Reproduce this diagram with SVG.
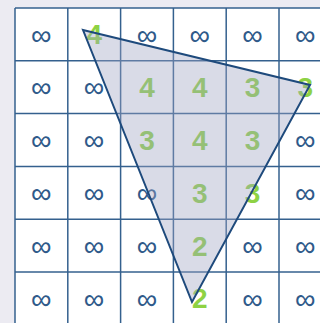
<svg xmlns="http://www.w3.org/2000/svg" width="320" height="323" viewBox="0 0 320 323">
<style>
.grid line{stroke:#34608e;stroke-width:1.5}
.inf{font-family:"Liberation Sans",Arial,sans-serif;font-size:29px;fill:#2f5a8a;text-anchor:middle}
.num{font-family:"Liberation Sans",Arial,sans-serif;font-size:28px;font-weight:bold;fill:#8ed244;text-anchor:middle}
</style>
<rect width="320" height="323" fill="#ecebf2"/>
<rect x="15" y="8" width="310" height="320" fill="#ffffff"/>
<g class="grid">
<line x1="15" y1="8" x2="15" y2="323"/>
<line x1="67.8" y1="8" x2="67.8" y2="323"/>
<line x1="120.6" y1="8" x2="120.6" y2="323"/>
<line x1="173.4" y1="8" x2="173.4" y2="323"/>
<line x1="226.2" y1="8" x2="226.2" y2="323"/>
<line x1="279" y1="8" x2="279" y2="323"/>
<line x1="15" y1="8" x2="320" y2="8"/>
<line x1="15" y1="60.8" x2="320" y2="60.8"/>
<line x1="15" y1="113.6" x2="320" y2="113.6"/>
<line x1="15" y1="166.4" x2="320" y2="166.4"/>
<line x1="15" y1="219.2" x2="320" y2="219.2"/>
<line x1="15" y1="272" x2="320" y2="272"/>
</g>
<g id="infinities" class="inf">
<text x="41.4" y="44.5">∞</text><text x="147" y="44.5">∞</text><text x="199.8" y="44.5">∞</text><text x="252.6" y="44.5">∞</text><text x="305.4" y="44.5">∞</text>
<text x="41.4" y="97.3">∞</text><text x="94.2" y="97.3">∞</text>
<text x="41.4" y="150.1">∞</text><text x="94.2" y="150.1">∞</text><text x="305.4" y="150.1">∞</text>
<text x="41.4" y="202.9">∞</text><text x="94.2" y="202.9">∞</text><text x="147" y="202.9">∞</text><text x="305.4" y="202.9">∞</text>
<text x="41.4" y="255.7">∞</text><text x="94.2" y="255.7">∞</text><text x="147" y="255.7">∞</text><text x="252.6" y="255.7">∞</text><text x="305.4" y="255.7">∞</text>
<text x="41.4" y="308.5">∞</text><text x="94.2" y="308.5">∞</text><text x="147" y="308.5">∞</text><text x="252.6" y="308.5">∞</text><text x="305.4" y="308.5">∞</text>
</g>
<g id="numbers" class="num">
<text x="94.2" y="44.4">4</text>
<text x="147" y="97.2">4</text><text x="199.8" y="97.2">4</text><text x="252.6" y="97.2">3</text><text x="305.4" y="97.2">3</text>
<text x="147" y="150">3</text><text x="199.8" y="150">4</text><text x="252.6" y="150">3</text>
<text x="199.8" y="202.8">3</text><text x="252.6" y="202.8">3</text>
<text x="199.8" y="255.6">2</text>
<text x="199.8" y="308.4">2</text>
</g>
<g id="triangle">
<polygon points="83,30 310,85 192,302" fill="rgb(160,165,195)" fill-opacity="0.4" stroke="#1e4a7c" stroke-width="2" stroke-linejoin="miter"/>
</g>
</svg>
